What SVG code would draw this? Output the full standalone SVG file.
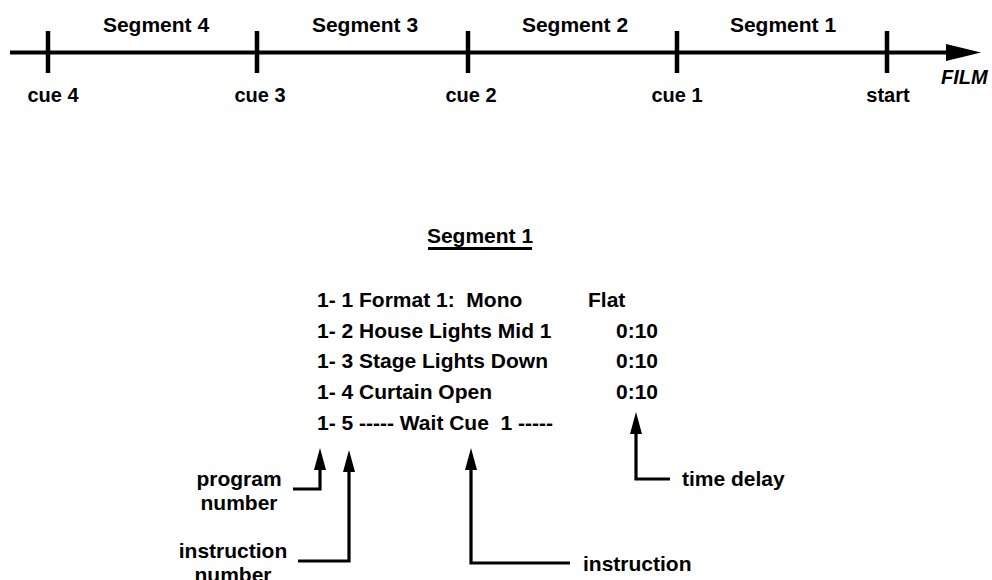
<svg xmlns="http://www.w3.org/2000/svg" width="992" height="580" viewBox="0 0 992 580">
<style>
text{font-family:"Liberation Sans",Arial,sans-serif;font-weight:bold;fill:#000}
.seg{font-size:21px;text-anchor:middle}
.cue{font-size:20px;text-anchor:middle}
.row{font-size:21px}
.lbl{font-size:21px}
.mid{text-anchor:middle}
.ln{stroke:#000;fill:none}
.conn{stroke:#000;stroke-width:3.2;fill:none;marker-end:url(#ah)}
</style>
<defs>
<marker id="ah" viewBox="0 0 22 12" refX="12" refY="6" markerWidth="22" markerHeight="12" markerUnits="userSpaceOnUse" orient="auto">
<path d="M0,0 L22,6 L0,12 z" fill="#000"/>
</marker>
</defs>
<rect width="992" height="580" fill="#fff"/>
<g id="timeline">
<line class="ln" x1="10" y1="52.5" x2="950" y2="52.5" stroke-width="4"/>
<polygon points="946,44 981,52.5 946,61" fill="#000"/>
<line class="ln" x1="48" y1="31" x2="48" y2="73" stroke-width="4.5"/>
<line class="ln" x1="257" y1="31" x2="257" y2="73" stroke-width="4.5"/>
<line class="ln" x1="468" y1="31" x2="468" y2="73" stroke-width="4.5"/>
<line class="ln" x1="677" y1="31" x2="677" y2="73" stroke-width="4.5"/>
<line class="ln" x1="887" y1="31" x2="887" y2="73" stroke-width="4.5"/>
<text class="seg" x="156" y="32">Segment 4</text>
<text class="seg" x="365" y="32">Segment 3</text>
<text class="seg" x="575" y="32">Segment 2</text>
<text class="seg" x="783" y="32">Segment 1</text>
<text class="cue" x="53" y="102">cue 4</text>
<text class="cue" x="260" y="102">cue 3</text>
<text class="cue" x="471" y="102">cue 2</text>
<text class="cue" x="677" y="102">cue 1</text>
<text class="cue" x="888" y="102">start</text>
<text x="941" y="84" font-size="20" font-style="italic">FILM</text>
</g>
<g id="segment1-title">
<text class="seg" x="480" y="243">Segment 1</text>
<line class="ln" x1="428" y1="248.5" x2="532" y2="248.5" stroke-width="3"/>
</g>
<g id="program-list">
<text class="row" x="317" y="307" xml:space="preserve">1- 1 Format 1:  Mono</text>
<text class="row" x="588" y="307">Flat</text>
<text class="row" x="317" y="337.5">1- 2 House Lights Mid 1</text>
<text class="row" x="616" y="337.5">0:10</text>
<text class="row" x="317" y="368">1- 3 Stage Lights Down</text>
<text class="row" x="616" y="368">0:10</text>
<text class="row" x="317" y="398.5">1- 4 Curtain Open</text>
<text class="row" x="616" y="398.5">0:10</text>
<text class="row" x="317" y="430" xml:space="preserve">1- 5 ----- Wait Cue  1 -----</text>
</g>
<g id="label-program-number">
<text class="lbl mid" x="239" y="486">program</text>
<text class="lbl mid" x="239" y="510">number</text>
</g>
<g id="label-instruction-number">
<text class="lbl mid" x="233" y="558">instruction</text>
<text class="lbl mid" x="233" y="582">number</text>
</g>
<g id="label-instruction">
<text class="lbl" x="583" y="571">instruction</text>
</g>
<g id="label-time-delay">
<text class="lbl" x="682" y="486">time delay</text>
</g>
<g id="connectors">
<path class="conn" d="M293,489 H320 V458"/>
<path class="conn" d="M298,561 H349 V460"/>
<path class="conn" d="M570,563 H471 V458"/>
<path class="conn" d="M670,479 H636 V422"/>
</g>
</svg>
